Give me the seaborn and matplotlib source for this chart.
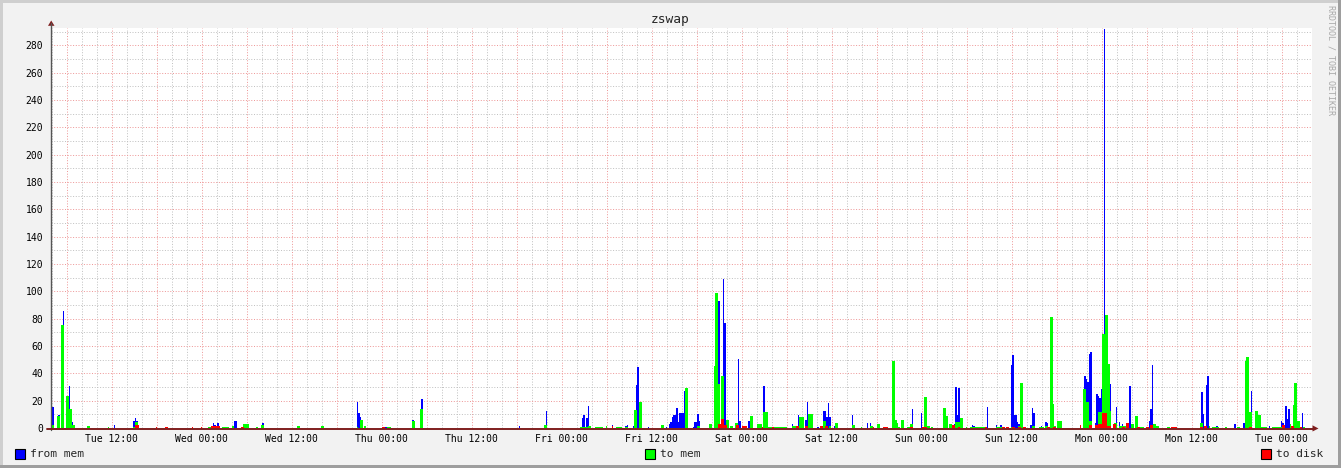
import numpy as np
import pandas as pd
import matplotlib
matplotlib.use("Agg")
import matplotlib.pyplot as plt
import seaborn as sns
from matplotlib.patches import Rectangle, Polygon
from matplotlib.lines import Line2D
from matplotlib.ticker import MultipleLocator, FuncFormatter

sns.set_style("white")
plt.rcParams["font.family"] = ["DejaVu Sans Mono"]

# hours counted from Tue 00:00, value per 12 minute slot
from_mem = [
    (4.2, 15), (5.0, 9.7), (5.6, 85.5), (6.4, 31), (6.8, 4.4), (12.4, 2.2),
    (15.0, 5), (15.2, 7), (15.4, 5),
    (25.6, 3.6), (25.8, 2.5), (26.2, 3.9), (28.4, 5.4), (28.6, 5.4),
    (32.2, 3.7), (44.8, 19), (45.0, 11.2), (45.2, 8), (48.6, 1),
    (52.2, 5.8), (53.4, 21.2),
    (66.4, 1.5), (70.0, 12.7), (74.8, 7.3), (75.0, 9.5), (75.4, 7), (75.6, 16),
    (78.0, 1), (78.8, 2.2), (80.6, 1.5), (80.8, 2.5), (81.6, 1.5),
    (82.0, 31.4), (82.2, 44.6), (83.6, 1), (86.0, 1),
    (86.4, 3), (86.6, 4.6), (86.8, 7.8), (87.0, 9.5), (87.2, 9.5), (87.4, 14.4),
    (87.6, 4.1), (87.8, 10.7), (88.0, 11.2), (88.2, 11.2), (88.4, 27),
    (89.6, 1), (89.8, 4.6), (90.0, 4.6), (90.2, 10), (90.4, 5.1),
    (93.0, 92.8), (93.6, 109), (93.8, 76.5),
    (95.6, 50.4), (95.8, 5.1), (97.0, 5.1), (99.0, 30.7),
    (102.8, 3), (103.6, 9.5), (104.6, 5.8), (104.8, 19.2),
    (106.2, 1), (107.0, 12.4), (107.2, 12.4), (107.4, 8.3), (107.6, 18.5), (107.8, 8.3),
    (108.4, 1.5), (110.8, 9.5), (112.8, 3.7), (113.2, 3.7),
    (118.8, 13.9), (120.0, 11.2),
    (124.4, 2.9), (124.6, 30), (124.8, 9.5), (125.0, 29.2),
    (126.8, 2.2), (127.0, 1.5), (128.8, 15.4), (130.0, 2.5), (130.6, 2.2),
    (132.0, 46), (132.2, 53.4), (132.4, 9.5), (132.6, 9.5), (132.8, 4.6), (133.0, 2.9),
    (134.6, 2.2), (134.8, 14.4), (135.0, 11.2), (136.0, 1.7), (136.6, 4.6), (136.8, 3.9),
    (141.8, 38), (142.0, 35.6), (142.2, 33.9), (142.4, 54), (142.6, 55.3),
    (143.2, 3.6), (143.4, 25), (143.6, 23.4), (143.8, 22), (144.0, 28.5), (144.2, 36),
    (144.4, 292), (144.6, 33.9), (144.8, 46), (145.2, 32), (146.0, 15.6),
    (146.4, 4.6), (146.8, 2.9), (147.8, 30.9), (149.4, 1),
    (150.4, 5.1), (150.6, 13.9), (150.8, 46),
    (157.4, 26.6), (157.6, 10.5), (158.0, 31.4), (158.2, 38), (159.4, 1.7),
    (161.8, 2.9), (163.0, 3.9), (163.8, 1.7), (164.0, 27), (166.4, 1.7),
    (168.0, 5.4), (168.2, 3.9), (168.6, 16.3), (168.8, 6.6), (169.0, 13.9),
    (169.6, 8.3), (170.4, 4.6), (170.8, 11),
]

to_mem = [
    (4.0, 2.2), (4.2, 2.2), (4.8, 8.8), (5.0, 8.8), (5.4, 75.3), (5.6, 75.3),
    (6.0, 23.4), (6.2, 23.4), (6.4, 13.9), (6.6, 13.9), (6.8, 2.2), (7.0, 2.2),
    (8.8, 1.5), (9.0, 1.5), (11.6, 1), (15.0, 1), (15.2, 4.1), (15.4, 4.1),
    (25.0, 1), (25.2, 1), (26.8, 1), (27.0, 1), (27.2, 1), (27.4, 1), (27.6, 1), (28.2, 1.7),
    (29.6, 2.9), (29.8, 2.9), (30.0, 2.9), (30.2, 2.9), (31.4, 1),
    (32.0, 2.2), (32.2, 2.2), (36.8, 1.5), (37.0, 1.5), (40.0, 1.5), (40.2, 1.5),
    (44.8, 1), (45.2, 5.8), (45.4, 5.8), (45.8, 1.5), (48.8, 1), (49.0, 1), (49.2, 1),
    (52.2, 5.1), (52.4, 5.1), (53.2, 13.9), (53.4, 13.9),
    (69.8, 2.2), (70.0, 2.2),
    (74.6, 1), (74.8, 1), (75.0, 1), (75.2, 1), (75.4, 1), (75.6, 1.7), (75.8, 1.7),
    (76.6, 1), (76.8, 1), (77.0, 1), (77.2, 1), (77.4, 1), (78.0, 1.7),
    (79.4, 1), (79.6, 1), (79.8, 1), (80.0, 1), (80.6, 1), (80.8, 1),
    (81.8, 13.2), (82.0, 13.2), (82.4, 19), (82.6, 19), (85.4, 2.2), (85.6, 2.2),
    (88.6, 29), (88.8, 29), (90.2, 1.5), (90.4, 1.5), (91.8, 2.7), (92.0, 2.7),
    (92.4, 45.6), (92.6, 99), (92.8, 99), (93.0, 32), (93.4, 38), (93.6, 38),
    (94.0, 5.6), (94.2, 5.6), (94.6, 1.5), (94.8, 1.5), (95.2, 3.4), (95.4, 3.4),
    (97.2, 8.5), (97.4, 8.5), (98.2, 2.7), (98.4, 2.7), (98.6, 2.7),
    (99.0, 11.5), (99.2, 11.5), (99.4, 11.5),
    (99.6, 1), (99.8, 1), (100.0, 1), (100.2, 1), (100.4, 1), (100.6, 1), (100.8, 1),
    (101.0, 1), (101.2, 1), (101.4, 1), (101.6, 1), (101.8, 1), (102.0, 1),
    (102.8, 1.7), (103.0, 1.7), (103.2, 1.7), (103.8, 8.3), (104.0, 8.3), (104.2, 8.3),
    (105.0, 10), (105.2, 10), (105.4, 10), (107.0, 5.1), (107.2, 5.1), (107.8, 1.7),
    (108.6, 3.9), (108.8, 3.9), (110.8, 2.2), (111.0, 2.2), (112.0, 0.7),
    (113.2, 1.7), (113.4, 1.7), (114.2, 2.7), (114.4, 2.7),
    (116.2, 49), (116.4, 49), (116.6, 5.8), (116.8, 3.9), (117.0, 1), (117.4, 5.8), (117.6, 5.8),
    (118.2, 1), (118.4, 1), (118.6, 2.9), (118.8, 2.9),
    (120.4, 22.7), (120.6, 22.7), (120.8, 1.5), (121.0, 1.5), (121.4, 1),
    (123.0, 14.4), (123.2, 14.4), (123.4, 8.8), (123.8, 2.7), (124.0, 2.7),
    (124.6, 4.6), (124.8, 4.6), (125.0, 4.6), (125.2, 7.3), (125.4, 7.3), (126.0, 1),
    (126.6, 0.7), (126.8, 0.7), (127.0, 0.7), (127.2, 0.7), (127.4, 0.7), (127.6, 0.7),
    (127.8, 0.7), (128.0, 0.7), (128.2, 0.7), (128.4, 0.7),
    (130.0, 1), (130.2, 1), (130.4, 1), (130.6, 1), (132.0, 1), (133.0, 1.7),
    (133.2, 33.1), (133.4, 33.1), (133.6, 0.7), (133.8, 0.7),
    (134.8, 1.7), (135.0, 1.7), (135.8, 0.7), (136.0, 0.7), (136.2, 0.7), (136.6, 1.7), (136.8, 1.7),
    (137.2, 81.1), (137.4, 81.1), (137.6, 17.3), (137.8, 1.7), (138.2, 5.4), (138.4, 5.4), (138.6, 5.4),
    (141.6, 28.5), (141.8, 28.5), (142.0, 19.2), (142.2, 19.2), (142.4, 5.1), (142.6, 5.1),
    (143.6, 11.5), (143.8, 11.5), (144.0, 11.5), (144.2, 69), (144.4, 69),
    (144.6, 82.6), (144.8, 82.6), (145.0, 46.5), (145.2, 12.4),
    (145.8, 3.4), (146.0, 3.4), (146.4, 1.7), (146.6, 1.7), (146.8, 1.7), (147.0, 1.7),
    (147.2, 1.7), (147.4, 1.7),
    (148.0, 2.7), (148.2, 2.7), (148.6, 8.8), (148.8, 8.8), (149.2, 1), (149.4, 1), (149.6, 1),
    (151.0, 2.9), (151.2, 2.9), (151.4, 1.7), (151.6, 1.7), (152.8, 0.7), (153.0, 0.7),
    (153.8, 0.7), (154.0, 0.7),
    (157.2, 3.9), (157.4, 3.9), (157.8, 1), (158.0, 1), (158.4, 1.7),
    (158.8, 1), (159.0, 1), (159.2, 1), (159.4, 1), (159.6, 1), (160.6, 1),
    (162.2, 0.7), (162.4, 0.7), (163.2, 49), (163.4, 52), (163.6, 52), (163.8, 12), (164.0, 12),
    (164.6, 12.7), (164.8, 12.7), (165.0, 9.5), (165.2, 9.5),
    (165.4, 0.7), (165.6, 0.7), (165.8, 0.7), (166.0, 0.7),
    (166.8, 0.7), (167.0, 0.7), (167.2, 0.7), (167.4, 0.7), (167.6, 0.7), (167.8, 0.7), (168.0, 0.7),
    (169.2, 2.7), (169.6, 16.8), (169.8, 33.1), (170.0, 33.1), (170.2, 5.4), (170.4, 5.4), (171.0, 0.7),
]

to_disk = [
    (15.2, 2.2), (15.4, 2.2), (15.6, 2.2), (18.0, 1), (19.2, 0.7), (19.4, 0.7), (22.8, 0.7), (24.0, 0.7),
    (25.4, 1.7), (25.6, 1.7), (25.8, 1.7), (26.0, 1.7), (26.2, 1.7), (26.4, 1.7), (29.4, 1), (29.6, 1),
    (48.2, 1), (48.4, 1), (78.8, 1.5),
    (93.0, 2.7), (93.2, 2.7), (93.4, 6.6), (93.6, 6.6), (93.8, 2.2), (94.0, 2.2),
    (95.4, 2.2), (95.6, 2.2), (96.2, 1.7), (96.4, 1.7), (96.6, 1.7), (98.8, 1), (100.2, 1),
    (103.4, 1.5), (103.6, 1.5), (104.6, 1.7), (104.8, 1.7), (106.6, 1.7), (106.8, 1.7),
    (107.2, 1.5), (107.4, 1.5), (113.6, 1),
    (115.0, 1), (115.2, 1), (115.4, 1), (118.6, 1), (118.8, 1), (120.2, 1), (120.4, 1), (120.6, 1),
    (124.2, 2.2), (124.4, 2.2), (125.0, 1), (128.6, 1), (130.8, 1), (131.0, 1), (131.4, 0.7), (131.6, 0.7),
    (132.2, 1), (132.4, 1), (133.0, 1), (133.2, 1), (133.6, 1), (133.8, 1),
    (136.8, 1), (137.0, 1), (137.6, 1), (137.8, 1),
    (141.2, 2.2), (142.4, 2.2), (142.6, 2.2),
    (143.2, 2.2), (143.4, 2.2), (143.6, 2.9), (143.8, 2.9), (144.0, 2.9),
    (144.2, 11.2), (144.4, 11.2), (144.6, 11.2),
    (144.8, 1.7), (145.0, 1.7), (145.2, 1.7), (145.6, 2.9), (145.8, 2.9), (146.8, 1), (147.0, 1),
    (147.4, 3.9), (147.6, 3.9),
    (148.8, 1), (149.0, 1), (150.0, 1), (150.2, 1), (150.6, 2.2), (150.8, 2.2),
    (153.4, 1), (153.6, 1), (153.8, 1), (154.0, 1), (157.2, 1), (157.4, 1), (157.8, 1.5), (158.0, 1.5),
    (163.8, 1), (164.0, 1), (168.2, 2.2), (168.4, 2.2), (169.4, 1.7), (169.6, 1.7), (170.6, 1),
]

tick_hours = [12, 24, 36, 48, 60, 72, 84, 96, 108, 120, 132, 144, 156, 168]
tick_labels = ["Tue 12:00", "Wed 00:00", "Wed 12:00", "Thu 00:00", "Thu 12:00",
               "Fri 00:00", "Fri 12:00", "Sat 00:00", "Sat 12:00", "Sun 00:00",
               "Sun 12:00", "Mon 00:00", "Mon 12:00", "Tue 00:00"]

series_names = ["from mem", "to mem", "to disk"]
series_colors = ["#0000FF", "#00FF00", "#FF0000"]

W, H = 1341, 468
fig = plt.figure(figsize=(W / 100, H / 100), dpi=100, facecolor="#F2F2F2")
# canvas box in pixels
cx0, cx1, cy0, cy1 = 51, 1312, 428, 27.5
ax = fig.add_axes([cx0 / W, 1 - cy0 / H, (cx1 - cx0) / W, (cy0 - cy1) / H])
ax.set_facecolor("white")

for data, col in zip([from_mem, to_mem, to_disk], series_colors):
    df = pd.DataFrame(data, columns=["hour", "value"]).groupby("hour", as_index=False).max()
    sns.histplot(data=df, x="hour", weights="value", binwidth=0.2, binrange=(3.9, 172.1),
                 color=col, alpha=1, linewidth=0, ax=ax, zorder=3)

ax.set_xlim(3.907, 172.05)
ax.set_ylim(0, 293)
ax.set_xlabel("")
ax.set_ylabel("")
for s in ax.spines.values():
    s.set_visible(False)

label_map = dict(zip(tick_hours, tick_labels))
ax.xaxis.set_major_locator(MultipleLocator(6))
ax.xaxis.set_minor_locator(MultipleLocator(2))
ax.xaxis.set_major_formatter(FuncFormatter(lambda v, p: label_map.get(int(round(v)), "")))
ax.yaxis.set_major_locator(MultipleLocator(20))
ax.yaxis.set_minor_locator(MultipleLocator(10))

mgrid = "#EE9A9A"
grid = "#C2C2C2"
ax.grid(which="major", color=mgrid, linestyle=(0, (1, 1.7)), linewidth=0.72)
ax.grid(which="minor", color=grid, linestyle=(0, (1, 1.7)), linewidth=0.72)
ax.set_axisbelow(True)

ax.tick_params(which="major", color="#E08080", length=1.6, width=0.72, labelsize=7, labelcolor="black")
ax.tick_params(which="minor", color="#AAAAAA", length=1.6, width=0.72)
ax.tick_params(axis="x", which="major", pad=2.6)
ax.tick_params(axis="y", which="major", pad=4.0)

def fx(px):
    return px / W

def fy(py):
    return 1 - py / H

# axes and arrows
fig.add_artist(Line2D([fx(51), fx(51)], [fy(430), fy(23)], color="#555555", lw=1.0))
fig.add_artist(Line2D([fx(47), fx(1314)], [fy(428.5), fy(428.5)], color="#7F1F1F", lw=1.4))
fig.add_artist(Polygon([(fx(48), fy(25.8)), (fx(54.5), fy(25.8)), (fx(51.2), fy(20.5))],
                       closed=True, color="#7F1F1F", lw=0))
fig.add_artist(Polygon([(fx(1312.5), fy(425.3)), (fx(1312.5), fy(431.5)), (fx(1318.5), fy(428.5))],
                       closed=True, color="#7F1F1F", lw=0))

# 3d frame
fig.add_artist(Rectangle((0, fy(2.5)), 1, 2.5 / H, color="#CFCFCF", lw=0))
fig.add_artist(Rectangle((0, 0), 2.5 / W, 1, color="#CFCFCF", lw=0))
fig.add_artist(Rectangle((fx(1337.5), 0), 3.5 / W, 1, color="#9E9E9E", lw=0))
fig.add_artist(Rectangle((0, 0), 1, 3.5 / H, color="#9E9E9E", lw=0))

fig.text(0.5, fy(19), "zswap", ha="center", va="center", fontsize=9.3)
fig.text(fx(1331.5), fy(60), "RRDTOOL / TOBI OETIKER", rotation=270, ha="center", va="center",
         fontsize=6, color="#A8A8A8")

# legend
legend_x = [15, 645, 1261]
for name, col, lx in zip(series_names, series_colors, legend_x):
    fig.add_artist(Rectangle((fx(lx), fy(459)), 9.5 / W, 10 / H, facecolor=col,
                             edgecolor="black", lw=0.8))
    fig.text(fx(lx + 15.5), fy(454), name, ha="left", va="center", fontsize=8.1)

fig.savefig("out.png", dpi=100, facecolor=fig.get_facecolor())
